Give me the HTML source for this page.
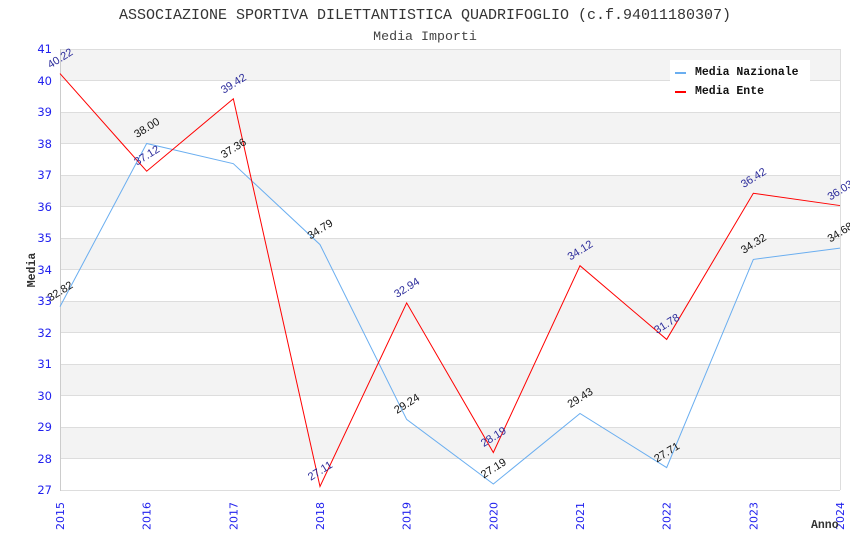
<!DOCTYPE html>
<html>
<head>
<meta charset="utf-8">
<style>
html,body{margin:0;padding:0;background:#fff;}
svg{display:block;}
</style>
</head>
<body>
<svg width="850" height="550" viewBox="0 0 850 550" xmlns="http://www.w3.org/2000/svg">
<rect x="0" y="0" width="850" height="550" fill="#fff"/>
<!-- bands -->
<g fill="#f3f3f3">
<rect x="60" y="49" width="780" height="31.5"/>
<rect x="60" y="112" width="780" height="31.5"/>
<rect x="60" y="175" width="780" height="31.5"/>
<rect x="60" y="238" width="780" height="31.5"/>
<rect x="60" y="301" width="780" height="31.5"/>
<rect x="60" y="364" width="780" height="31.5"/>
<rect x="60" y="427" width="780" height="31.5"/>
</g>
<!-- grid lines -->
<g stroke="#dddddd" stroke-width="1">
<line x1="60" y1="49.5" x2="840" y2="49.5"/>
<line x1="60" y1="80.5" x2="840" y2="80.5"/>
<line x1="60" y1="112.5" x2="840" y2="112.5"/>
<line x1="60" y1="143.5" x2="840" y2="143.5"/>
<line x1="60" y1="175.5" x2="840" y2="175.5"/>
<line x1="60" y1="206.5" x2="840" y2="206.5"/>
<line x1="60" y1="238.5" x2="840" y2="238.5"/>
<line x1="60" y1="269.5" x2="840" y2="269.5"/>
<line x1="60" y1="301.5" x2="840" y2="301.5"/>
<line x1="60" y1="332.5" x2="840" y2="332.5"/>
<line x1="60" y1="364.5" x2="840" y2="364.5"/>
<line x1="60" y1="395.5" x2="840" y2="395.5"/>
<line x1="60" y1="427.5" x2="840" y2="427.5"/>
<line x1="60" y1="458.5" x2="840" y2="458.5"/>
<line x1="60" y1="490.5" x2="840" y2="490.5"/>
<line x1="840.5" y1="49" x2="840.5" y2="490"/>
</g>
<line x1="60.5" y1="49" x2="60.5" y2="491" stroke="#cccccc" stroke-width="1"/>

<!-- title -->
<text x="425" y="19" text-anchor="middle" font-family="'Liberation Mono', monospace" font-size="15" fill="#333">ASSOCIAZIONE SPORTIVA DILETTANTISTICA QUADRIFOGLIO (c.f.94011180307)</text>
<text x="425" y="40" text-anchor="middle" font-family="'Liberation Mono', monospace" font-size="13.3" fill="#444">Media Importi</text>

<!-- y tick labels -->
<g font-family="'DejaVu Sans', sans-serif" font-size="11.5" fill="#2222ee" text-anchor="end">
<text x="52" y="53">41</text>
<text x="52" y="85">40</text>
<text x="52" y="116">39</text>
<text x="52" y="148">38</text>
<text x="52" y="179">37</text>
<text x="52" y="211">36</text>
<text x="52" y="242">35</text>
<text x="52" y="274">34</text>
<text x="52" y="305">33</text>
<text x="52" y="337">32</text>
<text x="52" y="368">31</text>
<text x="52" y="400">30</text>
<text x="52" y="431">29</text>
<text x="52" y="463">28</text>
<text x="52" y="494">27</text>
</g>

<!-- x tick labels -->
<g font-family="'DejaVu Sans', sans-serif" font-size="11" fill="#2222ee" text-anchor="end">
<text transform="translate(64,502) rotate(-90)">2015</text>
<text transform="translate(150.67,502) rotate(-90)">2016</text>
<text transform="translate(237.33,502) rotate(-90)">2017</text>
<text transform="translate(324,502) rotate(-90)">2018</text>
<text transform="translate(410.67,502) rotate(-90)">2019</text>
<text transform="translate(497.33,502) rotate(-90)">2020</text>
<text transform="translate(584,502) rotate(-90)">2021</text>
<text transform="translate(670.67,502) rotate(-90)">2022</text>
<text transform="translate(757.33,502) rotate(-90)">2023</text>
<text transform="translate(844,502) rotate(-90)">2024</text>
</g>

<!-- axis titles -->
<text transform="translate(35,270) rotate(-90)" text-anchor="middle" font-family="'Liberation Mono', monospace" font-weight="bold" font-size="11.5" fill="#333">Media</text>
<text x="811" y="528" font-family="'Liberation Mono', monospace" font-weight="bold" font-size="11.5" fill="#333">Anno</text>

<!-- series -->
<polyline fill="none" stroke="#6aaef0" stroke-width="1" points="60,306.67 146.67,143.5 233.33,163.66 320,244.6 406.67,419.44 493.33,484 580,413.46 666.67,467.6 753.33,259.42 840,248.08"/>
<polyline fill="none" stroke="#ff0000" stroke-width="1" points="60,73.57 146.67,171.22 233.33,98.77 320,486.5 406.67,302.89 493.33,452.5 580,265.72 666.67,339.43 753.33,193.27 840,205.56"/>

<!-- national labels -->
<g font-family="'Liberation Sans', sans-serif" font-size="11" fill="#111" text-anchor="middle">
<text transform="translate(60,291) rotate(-32)" dy="0.35em">32.82</text>
<text transform="translate(146.67,127.5) rotate(-32)" dy="0.35em">38.00</text>
<text transform="translate(233.33,148) rotate(-32)" dy="0.35em">37.36</text>
<text transform="translate(320,229) rotate(-32)" dy="0.35em">34.79</text>
<text transform="translate(406.67,403.4) rotate(-32)" dy="0.35em">29.24</text>
<text transform="translate(493.33,468) rotate(-32)" dy="0.35em">27.19</text>
<text transform="translate(580,397.5) rotate(-32)" dy="0.35em">29.43</text>
<text transform="translate(666.67,452) rotate(-32)" dy="0.35em">27.71</text>
<text transform="translate(753.33,243.4) rotate(-32)" dy="0.35em">34.32</text>
<text transform="translate(840,232) rotate(-32)" dy="0.35em">34.68</text>
</g>
<!-- ente labels -->
<g font-family="'Liberation Sans', sans-serif" font-size="11" fill="#2a2a9a" text-anchor="middle">
<text transform="translate(60,58) rotate(-32)" dy="0.35em">40.22</text>
<text transform="translate(146.67,155.2) rotate(-32)" dy="0.35em">37.12</text>
<text transform="translate(233.33,83.3) rotate(-32)" dy="0.35em">39.42</text>
<text transform="translate(320,470.5) rotate(-32)" dy="0.35em">27.11</text>
<text transform="translate(406.67,287.4) rotate(-32)" dy="0.35em">32.94</text>
<text transform="translate(493.33,436.5) rotate(-32)" dy="0.35em">28.19</text>
<text transform="translate(580,250) rotate(-32)" dy="0.35em">34.12</text>
<text transform="translate(666.67,323.4) rotate(-32)" dy="0.35em">31.78</text>
<text transform="translate(753.33,177.5) rotate(-32)" dy="0.35em">36.42</text>
<text transform="translate(840,190) rotate(-32)" dy="0.35em">36.03</text>
</g>

<!-- legend -->
<rect x="670" y="60" width="140" height="41" fill="#fff"/>
<line x1="675" y1="73" x2="686" y2="73" stroke="#6aaef0" stroke-width="2"/>
<line x1="675" y1="92" x2="686" y2="92" stroke="#ff0000" stroke-width="2"/>
<g font-family="'Liberation Mono', monospace" font-weight="bold" font-size="11.5" fill="#111">
<text x="695" y="75">Media Nazionale</text>
<text x="695" y="94">Media Ente</text>
</g>
</svg>
</body>
</html>
